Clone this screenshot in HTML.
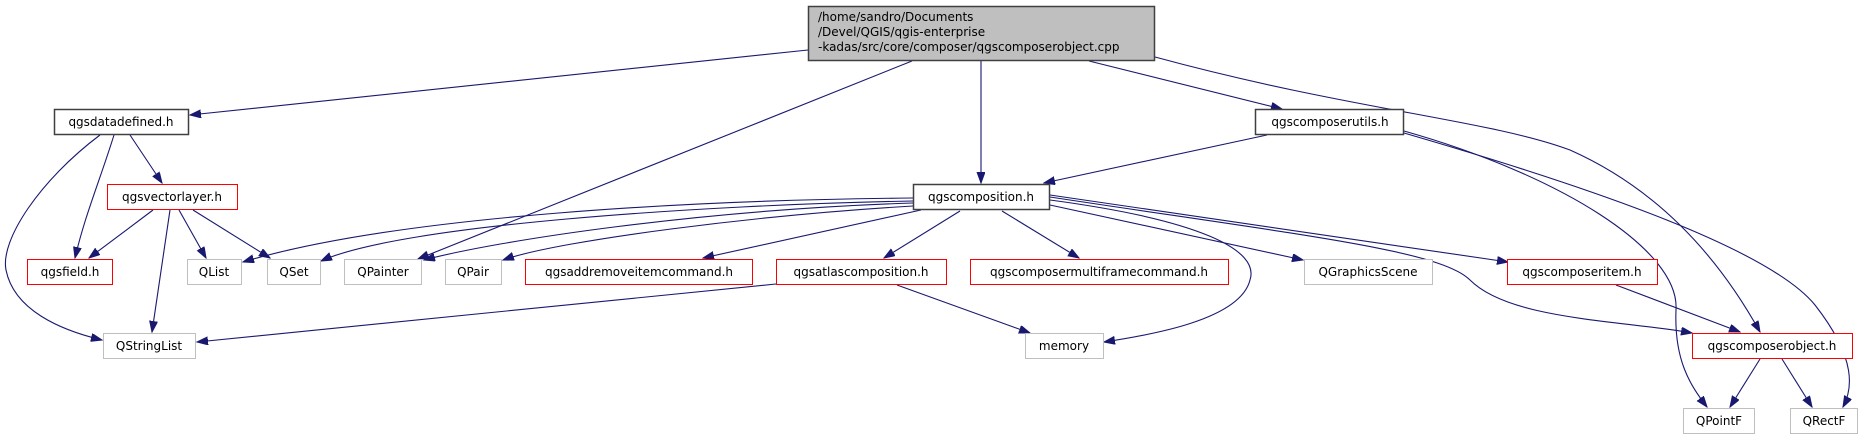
<!DOCTYPE html>
<html><head><meta charset="utf-8"><style>
html,body{margin:0;padding:0;background:#fff;}
svg{display:block;}
text{font-family:"DejaVu Sans","Liberation Sans",sans-serif;font-size:12px;fill:#000;}
.e{fill:none;stroke:#191970;stroke-width:1.1;}
</style></head><body>
<svg width="1875" height="440" viewBox="0 0 1875 440" xmlns="http://www.w3.org/2000/svg">
<defs>
<marker id="a" markerUnits="userSpaceOnUse" markerWidth="12" markerHeight="9" refX="11" refY="4" orient="auto">
<path d="M0,0 L11,4 L0,8 z" fill="#191970" stroke="#191970"/>
</marker>
</defs>
<g marker-end="url(#a)">
<path class="e" d="M808,50 L190,115"/>
<path class="e" d="M912,61 L418,259"/>
<path class="e" d="M981,61 L981,183"/>
<path class="e" d="M1089,61 L1282,109"/>
<path class="e" d="M1155,57 C1350,110 1490,120 1570,150 C1660,190 1720,260 1760,332"/>
<path class="e" d="M1267,135 L1044,183"/>
<path class="e" d="M1404,131 C1560,175 1680,250 1676,310 C1674,360 1690,385 1707,407"/>
<path class="e" d="M1404,133 C1600,190 1770,250 1815,305 C1858,360 1852,390 1843,407"/>
<path class="e" d="M130,135 L162,183"/>
<path class="e" d="M114,135 C100,180 85,215 75,258"/>
<path class="e" d="M100,135 C40,180 0,240 6,270 C14,310 60,330 102,340"/>
<path class="e" d="M153,210 L89,258"/>
<path class="e" d="M179,210 L206,258"/>
<path class="e" d="M193,210 L270,258"/>
<path class="e" d="M170,210 L152,332"/>
<path class="e" d="M913,198 C700,200 400,215 243,262"/>
<path class="e" d="M913,201 C700,205 400,225 321,261"/>
<path class="e" d="M913,203 C700,210 500,240 424,260"/>
<path class="e" d="M913,206 C760,215 560,240 503,260"/>
<path class="e" d="M921,210 L703,258"/>
<path class="e" d="M960,211 L884,258"/>
<path class="e" d="M1002,211 L1079,258"/>
<path class="e" d="M1050,205 L1303,260"/>
<path class="e" d="M1050,195 L1508,262"/>
<path class="e" d="M1050,197 C1300,235 1440,250 1470,280 C1510,320 1620,320 1692,333"/>
<path class="e" d="M1050,200 C1200,220 1260,250 1250,280 C1240,320 1150,335 1104,342"/>
<path class="e" d="M776,284 L197,342"/>
<path class="e" d="M897,285 L1030,333"/>
<path class="e" d="M1616,285 L1740,332"/>
<path class="e" d="M1760,359 L1730,407"/>
<path class="e" d="M1782,359 L1812,407"/>
</g>
<!-- nodes -->
<rect x="808.5" y="6.5" width="346" height="54" fill="#bfbfbf" stroke="#404040" stroke-width="1.5"/>
<text x="818" y="21">/home/sandro/Documents</text>
<text x="818" y="36">/Devel/QGIS/qgis-enterprise</text>
<text x="818" y="51">-kadas/src/core/composer/qgscomposerobject.cpp</text>

<g text-anchor="middle">
<rect x="54.5" y="109.5" width="134" height="25" fill="#fff" stroke="#404040" stroke-width="1.5"/><text x="121" y="126">qgsdatadefined.h</text>
<rect x="1255.5" y="109.5" width="148" height="25" fill="#fff" stroke="#404040" stroke-width="1.5"/><text x="1330" y="126">qgscomposerutils.h</text>
<rect x="107.5" y="184.5" width="130" height="25" fill="#fff" stroke="#ff0000"/><text x="172" y="201">qgsvectorlayer.h</text>
<rect x="913.5" y="184.5" width="136" height="25" fill="#fff" stroke="#404040" stroke-width="1.5"/><text x="981" y="201">qgscomposition.h</text>

<rect x="27.5" y="259.5" width="85" height="25" fill="#fff" stroke="#ff0000"/><text x="70" y="276">qgsfield.h</text>
<rect x="187.5" y="259.5" width="54" height="25" fill="#fff" stroke="#bfbfbf"/><text x="214" y="276">QList</text>
<rect x="267.5" y="259.5" width="53" height="25" fill="#fff" stroke="#bfbfbf"/><text x="294" y="276">QSet</text>
<rect x="344.5" y="259.5" width="77" height="25" fill="#fff" stroke="#bfbfbf"/><text x="383" y="276">QPainter</text>
<rect x="445.5" y="259.5" width="56" height="25" fill="#fff" stroke="#bfbfbf"/><text x="473" y="276">QPair</text>
<rect x="525.5" y="259.5" width="227" height="25" fill="#fff" stroke="#ff0000"/><text x="639" y="276">qgsaddremoveitemcommand.h</text>
<rect x="776.5" y="259.5" width="170" height="25" fill="#fff" stroke="#ff0000"/><text x="861" y="276">qgsatlascomposition.h</text>
<rect x="970.5" y="259.5" width="258" height="25" fill="#fff" stroke="#ff0000"/><text x="1099" y="276">qgscomposermultiframecommand.h</text>
<rect x="1304.5" y="259.5" width="128" height="25" fill="#fff" stroke="#bfbfbf"/><text x="1368" y="276">QGraphicsScene</text>
<rect x="1507.5" y="259.5" width="150" height="25" fill="#fff" stroke="#ff0000"/><text x="1582" y="276">qgscomposeritem.h</text>

<rect x="103.5" y="333.5" width="92" height="25" fill="#fff" stroke="#bfbfbf"/><text x="149" y="350">QStringList</text>
<rect x="1025.5" y="333.5" width="78" height="25" fill="#fff" stroke="#bfbfbf"/><text x="1064" y="350">memory</text>
<rect x="1692.5" y="333.5" width="160" height="25" fill="#fff" stroke="#ff0000"/><text x="1772" y="350">qgscomposerobject.h</text>

<rect x="1683.5" y="408.5" width="71" height="25" fill="#fff" stroke="#bfbfbf"/><text x="1719" y="425">QPointF</text>
<rect x="1790.5" y="408.5" width="67" height="25" fill="#fff" stroke="#bfbfbf"/><text x="1824" y="425">QRectF</text>
</g>
</svg>
</body></html>
